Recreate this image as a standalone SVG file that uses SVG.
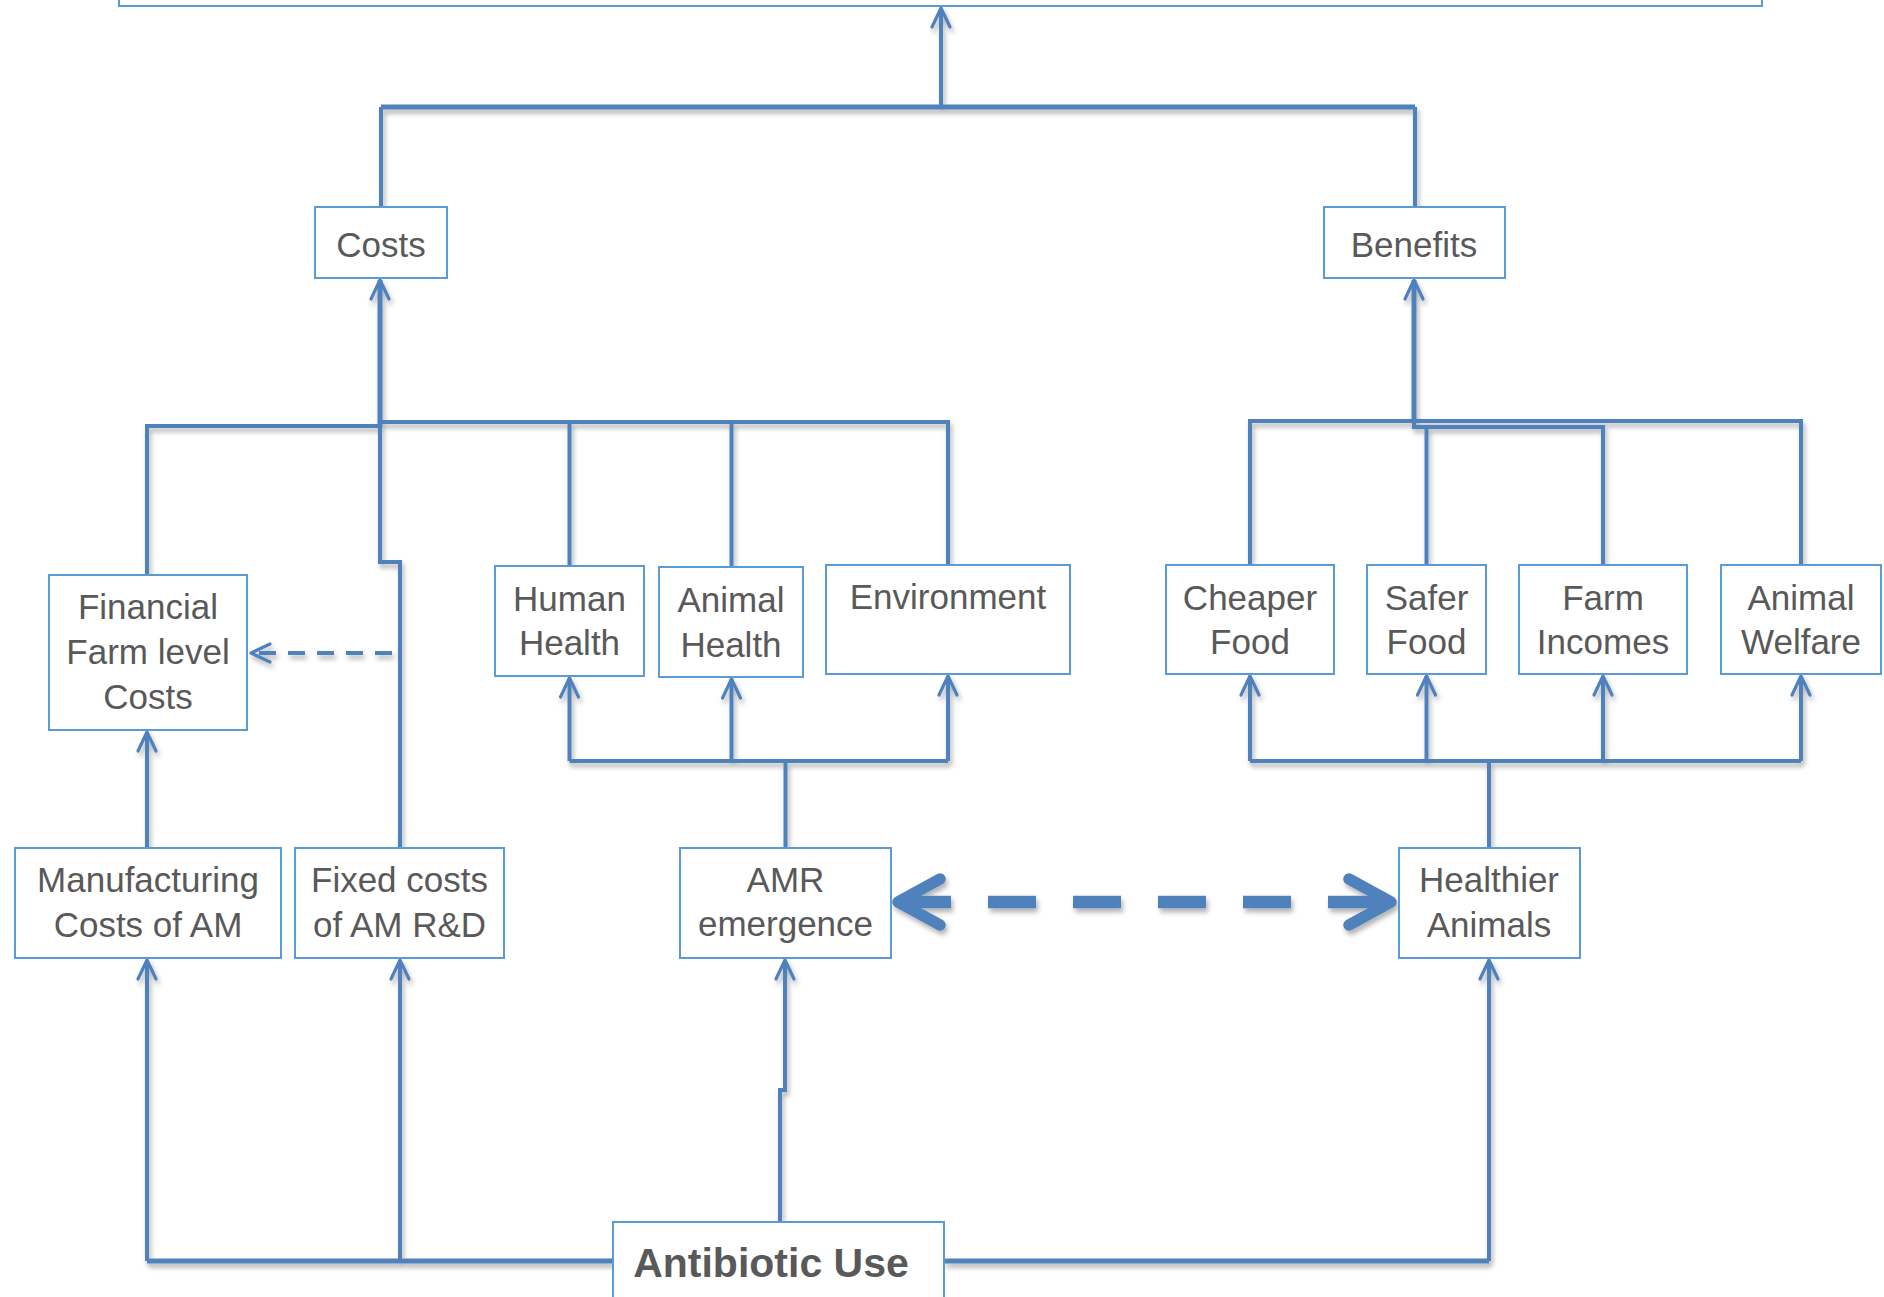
<svg xmlns="http://www.w3.org/2000/svg" width="1884" height="1297" viewBox="0 0 1884 1297">
<style>
.box{fill:#fff;stroke:#5b9bd5;stroke-width:2}
.t{font-family:"Liberation Sans",Arial,sans-serif;font-size:35px;fill:#595959;text-anchor:middle}
.tb{font-family:"Liberation Sans",Arial,sans-serif;font-size:41px;font-weight:bold;fill:#595959;text-anchor:middle}
.c{fill:none;stroke:#4f81bd;stroke-width:4;stroke-linejoin:miter}
.cb{fill:none;stroke:#4f81bd;stroke-width:5}
.ar{marker-end:url(#ah)}
</style>
<defs>
<marker id="ah" viewBox="-22 -13 26 26" markerWidth="26" markerHeight="26" refX="0" refY="0" orient="auto" markerUnits="userSpaceOnUse" overflow="visible">
<path d="M -19 -9 L 0 0 L -19 9" fill="none" stroke="#4f81bd" stroke-width="3.2" stroke-linejoin="round" stroke-linecap="round"/>
</marker>
<filter id="sh" x="-5%" y="-5%" width="110%" height="110%">
<feDropShadow dx="2" dy="4" stdDeviation="2.5" flood-color="#000" flood-opacity="0.3"/>
</filter>
</defs>

<g id="connectors" filter="url(#sh)">
<!-- top -->
<path class="c ar" d="M 941 107 V 8"/>
<path class="c" d="M 381 207 V 107"/>
<path class="c" d="M 1415 207 V 107"/>
<path class="cb" d="M 381 107 H 1415"/>
<!-- costs tree -->
<path class="cb ar" d="M 380 427 V 280"/>
<path class="c" d="M 147 575 V 426 H 380"/>
<path class="c" d="M 380 422 H 948 V 565"/>
<path class="c" d="M 569.5 422 V 566"/>
<path class="c" d="M 731.5 422 V 567"/>
<path class="c" d="M 380 426 V 562 H 400 V 848"/>
<path class="c ar" d="M 392 653 H 251" stroke-dasharray="17 12"/>
<!-- benefits tree -->
<path class="cb ar" d="M 1414 421 V 280"/>
<path class="c" d="M 1250 565 V 421 H 1801 V 565"/>
<path class="c" d="M 1414 421 V 427 H 1603 V 565"/>
<path class="c" d="M 1426.5 427 V 565"/>
<!-- AMR to impacts -->
<path class="c" d="M 785.5 848 V 761"/>
<path class="c" d="M 569.5 761 H 948"/>
<path class="c ar" d="M 569.5 761 V 678"/>
<path class="c ar" d="M 731.5 761 V 679"/>
<path class="c ar" d="M 948 761 V 676"/>
<!-- Healthier to benefits -->
<path class="c" d="M 1489 848 V 761"/>
<path class="c" d="M 1250 761 H 1801"/>
<path class="c ar" d="M 1250 761 V 676"/>
<path class="c ar" d="M 1426.5 761 V 676"/>
<path class="c ar" d="M 1603 761 V 676"/>
<path class="c ar" d="M 1801 761 V 676"/>
<!-- manufacturing to financial -->
<path class="c ar" d="M 147 848 V 732"/>
<!-- antibiotic use -->
<path class="cb" d="M 613 1261 H 147"/>
<path class="c ar" d="M 147 1261 V 960"/>
<path class="c ar" d="M 400 1261 V 960"/>
<path class="cb" d="M 944 1261 H 1489"/>
<path class="c ar" d="M 1489 1261 V 960"/>
<path class="c ar" d="M 780 1222 V 1090 H 785 V 960"/>
<!-- double dashed arrow -->
<path d="M 898 902 H 951 M 988 902 H 1036 M 1073 902 H 1121 M 1158 902 H 1206 M 1243 902 H 1291 M 1328 902 H 1390" fill="none" stroke="#4f81bd" stroke-width="12.5"/>
<path d="M 940 879 L 898 902 L 940 925 M 1349 879 L 1391 902 L 1349 925" fill="none" stroke="#4f81bd" stroke-width="11.5" stroke-linecap="round" stroke-linejoin="round"/>
</g>

<g id="top"><rect class="box" x="119" y="-30" width="1643" height="36"/></g>
<g id="costs"><rect class="box" x="315" y="207" width="132" height="71"/><text class="t" x="381" y="257">Costs</text></g>
<g id="benefits"><rect class="box" x="1324" y="207" width="181" height="71"/><text class="t" x="1414" y="257">Benefits</text></g>

<g id="financial"><rect class="box" x="49" y="575" width="198" height="155"/><text class="t" x="148" y="619">Financial</text><text class="t" x="148" y="664">Farm level</text><text class="t" x="148" y="709">Costs</text></g>
<g id="human"><rect class="box" x="495" y="566" width="149" height="110"/><text class="t" x="569.5" y="610.5">Human</text><text class="t" x="569.5" y="655">Health</text></g>
<g id="animalhealth"><rect class="box" x="659" y="567" width="144" height="110"/><text class="t" x="731" y="612">Animal</text><text class="t" x="731" y="657">Health</text></g>
<g id="environment"><rect class="box" x="826" y="565" width="244" height="109"/><text class="t" x="948" y="609">Environment</text></g>
<g id="cheaper"><rect class="box" x="1166" y="565" width="168" height="109"/><text class="t" x="1250" y="610">Cheaper</text><text class="t" x="1250" y="654">Food</text></g>
<g id="safer"><rect class="box" x="1367" y="565" width="119" height="109"/><text class="t" x="1426.5" y="610">Safer</text><text class="t" x="1426.5" y="654">Food</text></g>
<g id="farmincomes"><rect class="box" x="1519" y="565" width="168" height="109"/><text class="t" x="1603" y="610">Farm</text><text class="t" x="1603" y="654">Incomes</text></g>
<g id="welfare"><rect class="box" x="1721" y="565" width="160" height="109"/><text class="t" x="1801" y="610">Animal</text><text class="t" x="1801" y="654">Welfare</text></g>

<g id="manufacturing"><rect class="box" x="15" y="848" width="266" height="110"/><text class="t" x="148" y="892">Manufacturing</text><text class="t" x="148" y="937">Costs of AM</text></g>
<g id="fixed"><rect class="box" x="295" y="848" width="209" height="110"/><text class="t" x="399.5" y="892">Fixed costs</text><text class="t" x="399.5" y="937">of AM R&amp;D</text></g>
<g id="amr"><rect class="box" x="680" y="848" width="211" height="110"/><text class="t" x="785.5" y="892">AMR</text><text class="t" x="785.5" y="936">emergence</text></g>
<g id="healthier"><rect class="box" x="1399" y="848" width="181" height="110"/><text class="t" x="1489" y="892">Healthier</text><text class="t" x="1489" y="937">Animals</text></g>

<g id="antibiotic"><rect class="box" x="613" y="1222" width="331" height="100"/><text class="tb" x="771" y="1277">Antibiotic Use</text></g>
</svg>
